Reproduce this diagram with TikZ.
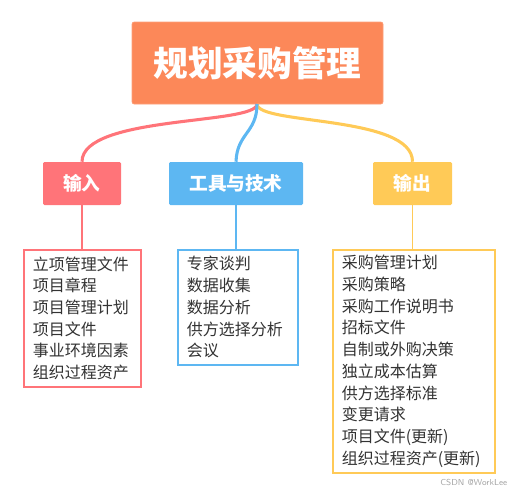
\documentclass[tikz,border=0pt]{standalone}
\usepackage{fontspec}
\setmainfont{Noto Sans CJK SC}
\newfontfamily\cjk{Noto Sans CJK SC}
\usetikzlibrary{positioning,calc}
\definecolor{rootC}{HTML}{FC8859}
\definecolor{inC}{HTML}{FF7479}
\definecolor{toolC}{HTML}{5DB7F2}
\definecolor{outC}{HTML}{FFCA57}
\definecolor{txtC}{HTML}{333333}
\tikzset{
  rootBox/.style={fill=rootC,draw=rootC!80!white,rounded corners=1.5pt,minimum width=188.25pt,minimum height=61.5pt,
    text=white,font=\cjk\bfseries\fontsize{26pt}{30pt}\selectfont},
  headBox/.style={fill=#1,rounded corners=1pt,minimum height=32.25pt,
    text=white,font=\cjk\bfseries\fontsize{14pt}{17pt}\selectfont},
  listBox/.style={draw=#1,line width=1.2pt,fill=white,anchor=north west,align=left,
    inner xsep=6.75pt,inner ysep=0pt,text=txtC,font=\cjk\fontsize{12pt}{16.3pt}\selectfont},
  branch/.style={draw=#1,line width=2.3pt},
  stem/.style={draw=#1,line width=1.3pt},
}
\begin{document}
\begin{tikzpicture}[x=0.75pt,y=-0.75pt]
\useasboundingbox (0,0) rectangle (515,494);

% ===== Root =====
\node[rootBox] (root) at (257.5,63) {规划采购管理};
\coordinate (fork) at (257,104);

% ===== Headers =====
\node[headBox=inC,minimum width=58.5pt] (input) at (82,183.5) {输入};
\node[headBox=toolC,minimum width=100.5pt] (tools) at (236,183.5) {工具与技术};
\node[headBox=outC,minimum width=59.25pt] (output) at (412.5,183.5) {输出};

% ===== Branches =====
\draw[branch=inC] (fork) .. controls (257,125) and (82,115) .. (input.north);
\draw[branch=outC] (fork) .. controls (257,125) and (413,115) .. (output.north);
\draw[branch=toolC] (fork) .. controls (257,133) and (237,133) .. (tools.north);

% ===== Lists =====
\node[listBox=inC,text width=74.25pt,minimum height=102.75pt] (inList) at (23,249)
  {立项管理文件\\项目章程\\项目管理计划\\项目文件\\事业环境因素\\组织过程资产};
\node[listBox=toolC,text width=76.5pt,minimum height=86.25pt] (toolList) at (177,249)
  {专家谈判\\数据收集\\数据分析\\供方选择分析\\会议};
\node[listBox=outC,text width=108pt,minimum height=167.25pt] (outList) at (332,249)
  {采购管理计划\\采购策略\\采购工作说明书\\招标文件\\自制或外购决策\\独立成本估算\\供方选择标准\\变更请求\\项目文件(更新)\\组织过程资产(更新)};

% ===== Stems =====
\draw[stem=inC] (input.south) -- (input.south |- inList.north);
\draw[stem=toolC] (tools.south) -- (tools.south |- toolList.north);
\draw[stem=outC] (output.south) -- (output.south |- outList.north);

% watermark
\node[anchor=east,text=black!35,font=\sffamily\fontsize{6.5pt}{8pt}\selectfont] (mark) at (512,482) {CSDN @WorkLee};
\end{tikzpicture}
\end{document}
